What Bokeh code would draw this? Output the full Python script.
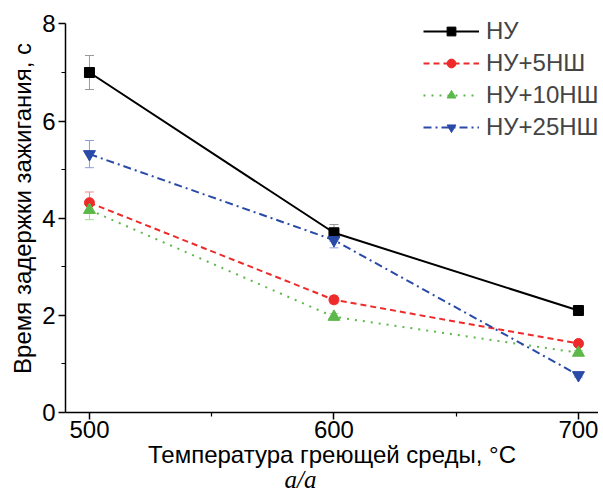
from bokeh.plotting import figure
from bokeh.models import Whisker, ColumnDataSource, Title, Legend, LegendItem, Range1d, FixedTicker
from bokeh.embed import file_html
from bokeh.resources import INLINE

temps = [500, 600, 700]
series_names = ["НУ", "НУ+5НШ", "НУ+10НШ", "НУ+25НШ"]
nu = [7.0, 3.7, 2.1]
nu_err = [0.35, 0.17, 0.08]
nu5 = [4.32, 2.32, 1.42]
nu5_err = [0.22, 0.08, 0.05]
nu10 = [4.17, 1.97, 1.23]
nu10_err = [0.2, 0.07, 0.04]
nu25 = [5.32, 3.55, 0.77]
nu25_err = [0.28, 0.16, 0.04]

x_ticks = [500, 600, 700]
x_minor = [550, 650]
y_ticks = [0, 2, 4, 6, 8]
y_minor = [1, 3, 5, 7]

FONT = "Liberation Sans"
FS = "24px"

p = figure(width=598, height=494, output_backend="svg", toolbar_location=None,
           x_range=Range1d(490.2, 708.2), y_range=Range1d(0, 8.4),
           min_border_left=65, min_border_right=0, min_border_top=4, min_border_bottom=82)
p.outline_line_color = None
p.grid.visible = False
p.background_fill_color = "white"

p.xaxis.ticker = FixedTicker(ticks=x_ticks, minor_ticks=x_minor)
p.yaxis.ticker = FixedTicker(ticks=y_ticks, minor_ticks=y_minor)
p.yaxis.bounds = (0, 8)
for ax in (p.xaxis, p.yaxis):
    ax.major_tick_in = 0
    ax.major_tick_out = 7
    ax.minor_tick_in = 0
    ax.minor_tick_out = 4
    ax.axis_line_width = 1.5
    ax.major_tick_line_width = 1.5
    ax.minor_tick_line_width = 1.2
    ax.major_label_text_font = FONT
    ax.major_label_text_font_size = FS
    ax.major_label_text_color = "black"
    ax.axis_label_text_font = FONT
    ax.axis_label_text_font_size = FS
    ax.axis_label_text_font_style = "normal"
    ax.axis_label_text_color = "black"
p.xaxis.axis_label = "Температура греющей среды, °C"
p.yaxis.axis_label = "Время задержки зажигания, с"
p.xaxis.major_label_standoff = 1
p.xaxis.axis_label_standoff = 0
p.yaxis.major_label_standoff = 3
p.yaxis.axis_label_standoff = 3

cap = Title(text="a/a", align="left", offset=219, vertical_align="top", text_font="Liberation Serif",
            text_font_style="italic", text_font_size="25px", text_color="black", standoff=-9)
p.add_layout(cap, "below")

specs = [
    (nu, nu_err, "black", "#999999", "solid", "square", 10),
    (nu5, nu5_err, "#ee2a2a", "#f08a8a", "6 4", "circle", 10),
    (nu10, nu10_err, "#5cb84a", "#a8d89c", "2 6", "triangle", 12),
    (nu25, nu25_err, "#2a4aa8", "#8c9ed8", "8 4 2 4", "inverted_triangle", 12),
]

items = []
for name, (vals, errs, col, ecol, dash, mk, sz) in zip(series_names, specs):
    src = ColumnDataSource(dict(x=temps, y=vals,
                                lo=[v - e for v, e in zip(vals, errs)],
                                hi=[v + e for v, e in zip(vals, errs)]))
    w = Whisker(base="x", lower="lo", upper="hi", source=src, line_color=ecol, line_width=1)
    w.upper_head.line_color = ecol
    w.lower_head.line_color = ecol
    w.upper_head.size = 9
    w.lower_head.size = 9
    p.add_layout(w)
    ln = p.line("x", "y", source=src, line_color=col, line_width=2, line_dash=dash)
    sc = p.scatter("x", "y", source=src, marker=mk, size=sz, fill_color=col, line_color=col)
    items.append(LegendItem(label=name, renderers=[ln, sc]))

legend = Legend(items=items, location=(358, 271), border_line_color=None,
                background_fill_alpha=0, label_text_font=FONT, label_text_font_size=FS,
                glyph_width=56, glyph_height=22, spacing=4, label_standoff=7,
                padding=0, margin=0)
p.add_layout(legend)

open("out.html", "w").write(file_html(p, INLINE))
